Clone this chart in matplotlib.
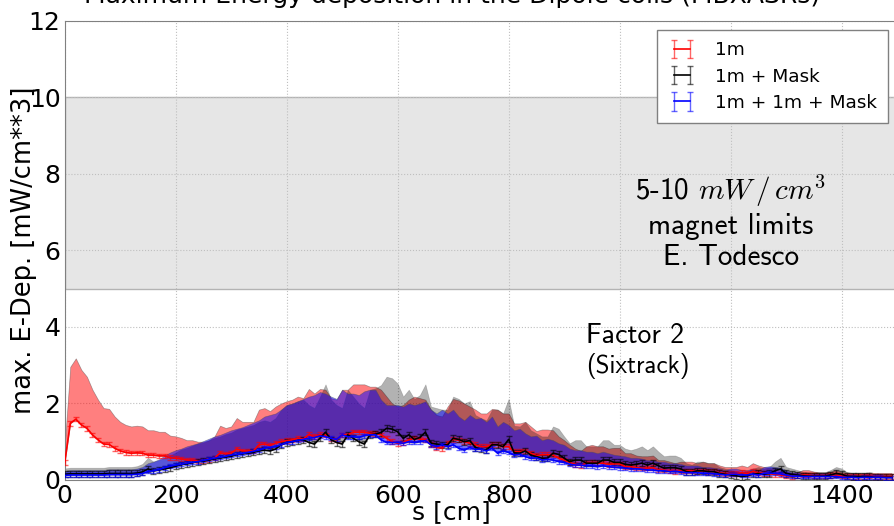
import numpy as np
import matplotlib
matplotlib.use('Agg')
import matplotlib.pyplot as plt
from matplotlib.colors import to_rgba

plt.rcParams['mathtext.fontset'] = 'cm'

# position along the magnet [cm], one bin every 10 cm
s_cm = np.arange(0, 1500, 10)

# max. energy deposition (mean)
e_1m = [0.45, 1.48, 1.59, 1.44, 1.35, 1.18, 1.05, 0.94, 0.93, 0.83,
        0.76, 0.72, 0.70, 0.71, 0.70, 0.65, 0.65, 0.63, 0.63, 0.58,
        0.57, 0.55, 0.52, 0.52, 0.50, 0.50, 0.52, 0.57, 0.71, 0.68,
        0.70, 0.81, 0.76, 0.76, 0.76, 0.92, 0.94, 0.90, 0.96, 1.00,
        1.03, 1.05, 1.09, 1.07, 1.19, 1.13, 1.19, 1.18, 1.07, 1.05,
        1.18, 1.18, 1.25, 1.25, 1.25, 1.22, 1.22, 1.18, 1.09, 1.00,
        0.96, 0.98, 1.05, 1.09, 1.07, 1.05, 0.92, 0.85, 0.83, 0.96,
        1.06, 1.04, 1.00, 0.96, 0.92, 0.87, 0.87, 0.93, 0.92, 0.87,
        0.87, 0.74, 0.74, 0.76, 0.70, 0.64, 0.66, 0.66, 0.65, 0.57,
        0.52, 0.46, 0.41, 0.38, 0.44, 0.46, 0.44, 0.44, 0.41, 0.42,
        0.42, 0.35, 0.35, 0.32, 0.31, 0.31, 0.32, 0.26, 0.26, 0.24,
        0.22, 0.24, 0.24, 0.24, 0.22, 0.24, 0.22, 0.22, 0.19, 0.17,
        0.17, 0.17, 0.19, 0.17, 0.22, 0.19, 0.17, 0.16, 0.15, 0.13,
        0.11, 0.09, 0.10, 0.13, 0.13, 0.11, 0.10, 0.10, 0.11, 0.13,
        0.10, 0.10, 0.09, 0.09, 0.09, 0.10, 0.09, 0.09, 0.09, 0.09]

e_1m_mask = [0.15, 0.16, 0.16, 0.16, 0.16, 0.16, 0.16, 0.16, 0.17, 0.17,
             0.17, 0.17, 0.17, 0.18, 0.21, 0.29, 0.24, 0.26, 0.29, 0.32,
             0.36, 0.40, 0.42, 0.45, 0.48, 0.49, 0.52, 0.55, 0.57, 0.60,
             0.62, 0.66, 0.68, 0.70, 0.72, 0.76, 0.78, 0.76, 0.81, 0.92,
             0.98, 1.00, 1.03, 1.05, 0.98, 0.94, 1.09, 1.25, 1.05, 0.98,
             0.94, 1.18, 1.09, 1.00, 0.94, 1.18, 1.20, 1.24, 1.35, 1.33,
             1.26, 1.09, 1.18, 1.06, 1.11, 1.25, 0.96, 0.94, 0.92, 0.92,
             1.09, 1.06, 1.00, 1.03, 0.85, 0.81, 0.78, 0.92, 0.92, 0.87,
             1.06, 0.71, 0.70, 0.76, 0.65, 0.61, 0.57, 0.57, 0.70, 0.67,
             0.57, 0.48, 0.52, 0.52, 0.44, 0.44, 0.44, 0.52, 0.52, 0.46,
             0.46, 0.41, 0.39, 0.41, 0.44, 0.39, 0.44, 0.37, 0.31, 0.32,
             0.32, 0.29, 0.22, 0.20, 0.24, 0.24, 0.22, 0.22, 0.17, 0.15,
             0.13, 0.11, 0.09, 0.11, 0.15, 0.17, 0.15, 0.17, 0.24, 0.29,
             0.17, 0.15, 0.13, 0.11, 0.10, 0.10, 0.10, 0.10, 0.13, 0.17,
             0.15, 0.10, 0.09, 0.09, 0.09, 0.09, 0.07, 0.07, 0.07, 0.07]

e_1m_1m_mask = [0.12, 0.13, 0.13, 0.13, 0.13, 0.13, 0.13, 0.13, 0.14, 0.14,
                0.14, 0.14, 0.14, 0.15, 0.17, 0.22, 0.24, 0.27, 0.32, 0.36,
                0.39, 0.41, 0.44, 0.46, 0.48, 0.51, 0.54, 0.57, 0.59, 0.62,
                0.65, 0.67, 0.69, 0.72, 0.75, 0.78, 0.83, 0.85, 0.87, 0.92,
                0.98, 1.00, 1.03, 1.06, 1.09, 1.11, 1.15, 1.13, 1.09, 1.06,
                1.18, 1.13, 1.13, 1.11, 1.16, 1.18, 1.18, 1.05, 0.98, 0.98,
                0.98, 0.96, 1.00, 0.98, 1.00, 1.03, 0.92, 0.87, 0.92, 0.87,
                0.92, 0.83, 0.78, 0.85, 0.80, 0.81, 0.76, 0.83, 0.70, 0.76,
                0.72, 0.65, 0.67, 0.61, 0.57, 0.58, 0.52, 0.54, 0.52, 0.48,
                0.46, 0.41, 0.39, 0.39, 0.37, 0.37, 0.35, 0.37, 0.35, 0.33,
                0.32, 0.31, 0.29, 0.29, 0.28, 0.26, 0.26, 0.24, 0.24, 0.22,
                0.22, 0.21, 0.19, 0.19, 0.19, 0.17, 0.17, 0.16, 0.15, 0.13,
                0.15, 0.15, 0.13, 0.13, 0.15, 0.13, 0.17, 0.18, 0.17, 0.16,
                0.13, 0.10, 0.10, 0.09, 0.09, 0.09, 0.09, 0.09, 0.09, 0.09,
                0.07, 0.07, 0.07, 0.06, 0.07, 0.07, 0.07, 0.07, 0.06, 0.06]

# rough size of the error bars of each curve
err_1m = 0.06
err_1m_mask = 0.08
err_1m_1m_mask = 0.05

labels = ['1m', '1m + Mask', '1m + 1m + Mask']
colors = ['r', 'k', 'b']
fill_alpha = [0.5, 0.3, 0.5]

fig = plt.figure(figsize=(8.95, 5.26), dpi=100)
ax = fig.add_axes([0.0723, 0.0875, 0.930, 0.8726])

# magnet limits band
ax.axhspan(5, 10, facecolor='0.9', edgecolor='0.7', lw=1, zorder=0)

data = [e_1m, e_1m_mask, e_1m_1m_mask]
errs = [err_1m, err_1m_mask, err_1m_1m_mask]

# factor 2 bands
for y, c, a in zip(data, colors, fill_alpha):
    y = np.array(y)
    ax.fill_between(s_cm, y, 2 * y, facecolor=c, edgecolor='0.3', alpha=a, lw=0.5, zorder=1)

for y, e, c, lab in zip(data, errs, colors, labels):
    ax.errorbar(s_cm, y, yerr=e, color=c, ecolor=to_rgba(c, 0.6), lw=1.2,
                elinewidth=1, capsize=2, label=lab, zorder=3)

ax.set_xlim(0, 1500)
ax.set_ylim(0, 12)
ax.set_xticks(range(0, 1401, 200))
ax.set_yticks(range(0, 13, 2))
ax.tick_params(length=0, labelsize=18, pad=3)
ax.grid(True, ls=':', color='0.75', lw=0.8)
ax.set_axisbelow(True)
for sp in ax.spines.values():
    sp.set_color('0.5')

ax.set_title('Maximum Energy deposition in the Dipole coils (MBXASRs)', fontsize=18, x=0.465, pad=13)
ax.set_xlabel('s [cm]', fontsize=18)
ax.xaxis.set_label_coords(0.465, -0.043)
ax.set_ylabel('max. E-Dep. [mW/cm**3]', fontsize=18.5)
ax.yaxis.set_label_coords(-0.033, 0.5)

ax.text(1200, 6.75, '5-10 $mW\\,/\\,cm^3$\nmagnet limits\nE. Todesco', ha='center', va='center',
        multialignment='center', fontsize=21, family='cmss10')
ax.text(940, 3.58, 'Factor 2', fontsize=20, family='cmss10', va='baseline')
ax.text(940, 2.80, '(Sixtrack)', fontsize=18, family='cmss10', va='baseline')

ax.legend(loc='upper right', numpoints=2, fontsize=13.3, fancybox=False, edgecolor='0.5',
          framealpha=1, handlelength=1.45, handletextpad=1.05, borderpad=0.6,
          labelspacing=0.45)

fig.savefig('out.png', dpi=100)
